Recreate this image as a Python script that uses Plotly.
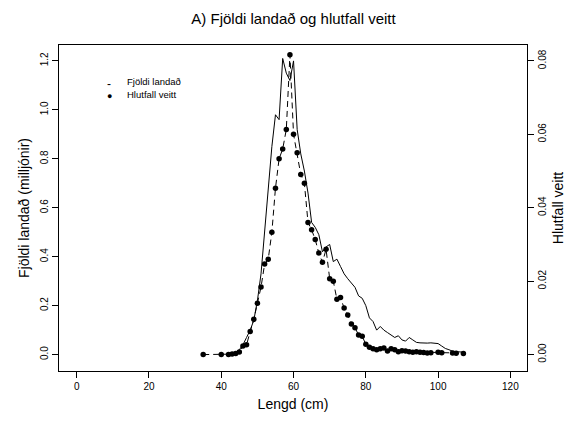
import plotly.graph_objects as go

len_line = [42,43,44,45,46,47,48,49,50,51,52,53,54,55,56,57,58,59,60,61,62,63,64,65,66,67,68,69,70,71,72,73,74,75,76,77,78,79,80,81,82,83,84,85,86,87,88,89,90,91,92,93,94,95,96,97,98,99,100,101,102,103,104,105,106,107]
landad = [0.0,0.005,0.01,0.02,0.04,0.07,0.1,0.14,0.22,0.33,0.5,0.68,0.85,0.98,0.96,1.21,1.15,1.12,1.2,0.92,0.82,0.75,0.66,0.54,0.52,0.49,0.42,0.44,0.45,0.38,0.39,0.36,0.33,0.31,0.29,0.275,0.24,0.23,0.2,0.15,0.135,0.1,0.115,0.1,0.09,0.08,0.07,0.077,0.06,0.055,0.07,0.06,0.05,0.048,0.046,0.047,0.048,0.045,0.045,0.035,0.025,0.02,0.014,0.012,0.01,0.01]

len_dot = [35,40,42,43,44,45,46,47,48,49,50,51,52,53,54,55,56,57,58,59,60,61,62,63,64,65,66,67,68,69,70,71,72,73,74,75,76,77,78,79,80,81,82,83,84,85,86,87,88,89,90,91,92,93,94,95,96,97,98,100,101,104,105,107]
dot_left = [0,0,0,0.002,0.004,0.011,0.035,0.04,0.094,0.144,0.21,0.276,0.37,0.39,0.5,0.68,0.8,0.84,0.92,1.225,0.9,0.825,0.736,0.7,0.54,0.51,0.47,0.415,0.377,0.43,0.31,0.3,0.226,0.233,0.19,0.162,0.125,0.11,0.08,0.075,0.042,0.03,0.024,0.02,0.024,0.027,0.015,0.024,0.02,0.012,0.016,0.015,0.012,0.01,0.012,0.01,0.009,0.007,0.008,0.01,0.008,0.007,0.006,0.005]
hlutfall = [v/15 for v in dot_left]

fig = go.Figure()
fig.add_trace(go.Scatter(x=len_line, y=landad, mode="lines", line=dict(color="black", width=1), showlegend=False))
fig.add_trace(go.Scatter(x=len_dot, y=hlutfall, yaxis="y2", mode="lines+markers",
                         line=dict(color="black", width=1, dash="6px,4px"),
                         marker=dict(color="black", size=5.5), showlegend=False))
# legend
fig.add_annotation(xref="paper", yref="paper", x=0.098, y=0.907, text="-", showarrow=False, font=dict(size=12, color="black"))
fig.add_annotation(xref="paper", yref="paper", x=0.098, y=0.864, text="●", showarrow=False, font=dict(size=9, color="black"))
fig.add_annotation(xref="paper", yref="paper", x=0.14, y=0.91, text="Fjöldi landað", xanchor="left", showarrow=False, font=dict(size=9.5, color="black"))
fig.add_annotation(xref="paper", yref="paper", x=0.14, y=0.87, text="Hlutfall veitt", xanchor="left", showarrow=False, font=dict(size=9.5, color="black"))

ax = dict(showgrid=False, zeroline=False, showline=True, linecolor="black", linewidth=1, automargin=False,
          ticks="outside", ticklen=6, tickcolor="black", tickfont=dict(size=10, color="black"))
fig.update_layout(
    width=571, height=420, margin=dict(l=51, r=51.5, t=37, b=56.5, autoexpand=False),
    plot_bgcolor="white", paper_bgcolor="white",
    font=dict(family="Liberation Sans, Arial", color="black"),
    title=dict(text="A) Fjöldi landað og hlutfall veitt", x=0.5, xanchor="center", y=0.975, yanchor="middle", font=dict(size=15)),
    xaxis=dict(ax, range=[-4.9, 124.6], tickvals=[0,20,40,60,80,100,120], mirror=True,
               title=dict(text="Lengd (cm)", font=dict(size=14), standoff=8)),
    yaxis=dict(ax, range=[-0.067, 1.265], tickvals=[0,0.2,0.4,0.6,0.8,1.0,1.2], tickformat=".1f", tickangle=-90,
               title=dict(text="Fjöldi landað (milljónir)", font=dict(size=14), standoff=6)),
    yaxis2=dict(ax, overlaying="y", side="right", range=[-0.067/15, 1.265/15], tickvals=[0,0.02,0.04,0.06,0.08],
                tickformat=".2f", tickangle=-90, title=dict(text="Hlutfall veitt", font=dict(size=14), standoff=6)),
)
fig.write_html("out.html")
